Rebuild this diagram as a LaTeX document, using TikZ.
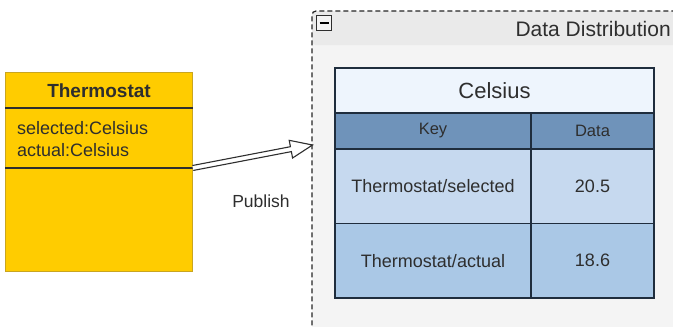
\documentclass[tikz,border=0pt]{standalone}
\usepackage{fontspec}
\setmainfont{Liberation Sans}
\usetikzlibrary{calc}

\definecolor{classfill}{HTML}{FFCC00}
\definecolor{classedge}{HTML}{C9A520}
\definecolor{inkgray}{HTML}{2E2E2E}
\definecolor{ddbody}{HTML}{F4F4F4}
\definecolor{ddhead}{HTML}{EAEAEA}
\definecolor{celsiusfill}{HTML}{EEF5FD}
\definecolor{headfill}{HTML}{6F93BA}
\definecolor{rowa}{HTML}{C6D9EF}
\definecolor{rowb}{HTML}{AAC8E6}
\definecolor{gridline}{HTML}{1F2D3D}

\tikzset{
  cell/.style={draw=gridline, line width=1.2pt, outer sep=0pt, inner sep=0pt,
    anchor=north west, font=\fontsize{18}{21}\selectfont},
  sepline/.style={draw=inkgray, line width=1.5pt},
  pubarrow/.style={draw=inkgray, fill=white, line width=1.1pt, line join=miter}
}

\begin{document}
\begin{tikzpicture}[x=1pt, y=-1pt, every node/.style={inner sep=0pt, text=inkgray}]
  \clip (0,0) rectangle (673,327);
  \fill[white] (0,0) rectangle (673,327);

  % class box
  \node[draw=classedge, fill=classfill, line width=0.8pt, anchor=north west,
    minimum width=187pt, minimum height=199pt] (thermo) at (5,72) {};
  \node[font=\bfseries\fontsize{19}{22}\selectfont] (thermoname) at (99,91) {Thermostat};
  \path[sepline] ($(thermo.north west)+(0,36)$) -- ($(thermo.north east)+(0,36)$);
  \path[sepline] ($(thermo.north west)+(0,96)$) -- ($(thermo.north east)+(0,96)$);
  \node[anchor=base west, font=\fontsize{18}{21}\selectfont] (attrsel) at (17,134) {selected:Celsius};
  \node[anchor=base west, font=\fontsize{18}{21}\selectfont] (attract) at (17,156) {actual:Celsius};

  % container
  \node[fill=ddbody, anchor=north west, minimum width=380pt, minimum height=330pt] (dd) at (312,11) {};
  \fill[ddhead, rounded corners=4pt] (dd.north west) rectangle ($(dd.north east)+(0,34)$);
  \draw[black!85, line width=1.2pt, dash pattern=on 5pt off 3pt, rounded corners=4pt]
    (dd.south west) -- (dd.north west) -- (dd.north east);
  \node[draw=inkgray, fill=ddbody, line width=0.8pt, minimum size=15pt] (collapse) at (324,23) {};
  \draw[black, line width=2.2pt] ($(collapse.center)+(-4.5,0)$) -- ($(collapse.center)+(4.5,0)$);
  \node[anchor=base east, font=\fontsize{21}{24}\selectfont] (ddtitle) at (671,36) {Data Distribution};

  % table
  \node[cell, fill=celsiusfill, minimum width=319pt, minimum height=45pt,
    font=\fontsize{22}{25}\selectfont] (celsius) at (335,68) {Celsius};
  \node[cell, fill=headfill, minimum width=196pt, minimum height=36pt,
    font=\fontsize{16.5}{19}\selectfont] (keyhd) at (celsius.south west) {Key};
  \node[cell, fill=headfill, minimum width=123pt, minimum height=36pt,
    font=\fontsize{16.5}{19}\selectfont] (datahd) at (keyhd.north east) {Data};
  \foreach \key / \val / \up / \clr in {selected/20.5/keyhd/rowa, actual/18.6/selected/rowb}{
    \node[cell, fill=\clr, minimum width=196pt, minimum height=74.5pt] (\key) at (\up.south west) {Thermostat/\key};
    \node[cell, fill=\clr, minimum width=123pt, minimum height=74.5pt] (\key val) at (\key.north east) {\val};
  }

  % publish connector
  \coordinate (pubfrom) at ($(thermo.north east)+(0,96)$);
  \coordinate (pubto) at ($(dd.north west)+(0.5,134)$);
  \coordinate (headbase) at ($(pubto)!22pt!(pubfrom)$);
  \path[pubarrow] ($(pubfrom)!2.5pt!90:(pubto)$) -- ($(headbase)!2.5pt!90:(pubto)$)
    -- ($(headbase)!9pt!90:(pubto)$) -- (pubto) -- ($(headbase)!9pt!-90:(pubto)$)
    -- ($(headbase)!2.5pt!-90:(pubto)$) -- ($(pubfrom)!2.5pt!-90:(pubto)$);
  \node[font=\fontsize{17.5}{20}\selectfont] (publish) at (261,201) {Publish};
\end{tikzpicture}
\end{document}
